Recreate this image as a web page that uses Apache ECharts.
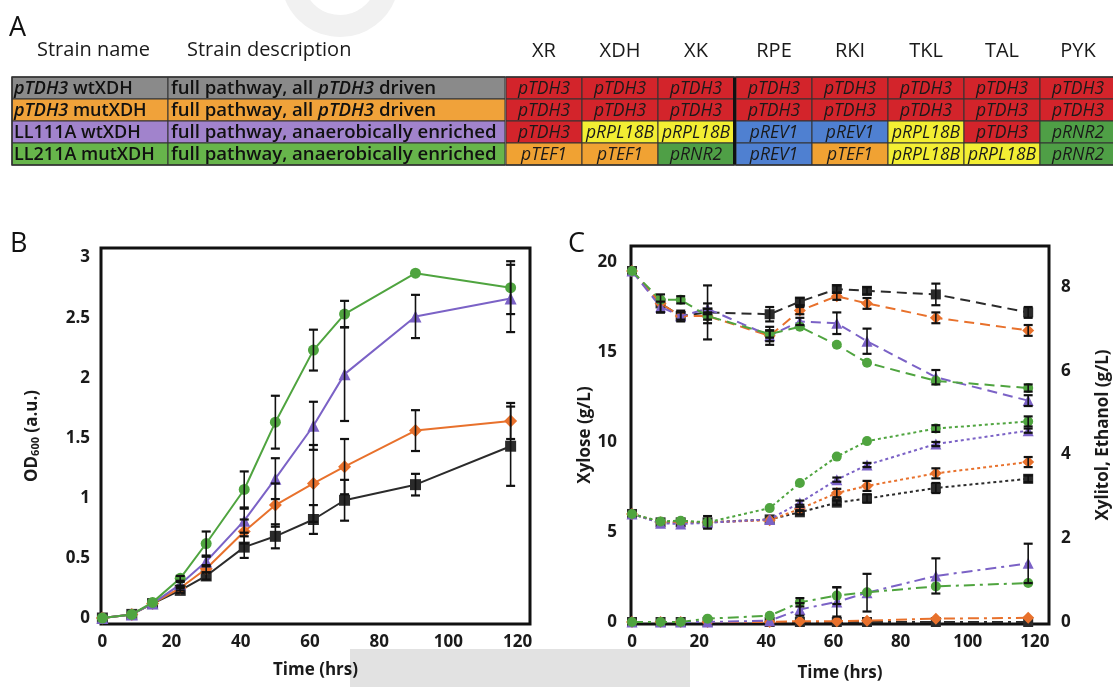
<!DOCTYPE html>
<html><head><meta charset="utf-8">
<script src="https://cdn.jsdelivr.net/npm/echarts@6/dist/echarts.min.js"></script>
<style>html,body{margin:0;padding:0;background:#fff;}#c{width:1113px;height:687px;}</style>
</head><body><div id="c"></div>
<script>
// ---------- Panel A table ----------
const headerNames = ['Strain name', 'Strain description'];
const geneNames = ['XR', 'XDH', 'XK', 'RPE', 'RKI', 'TKL', 'TAL', 'PYK'];
const strainNames = ['{i|pTDH3}{n| wtXDH}', '{i|pTDH3}{n| mutXDH}', '{n|LL111A wtXDH}', '{n|LL211A mutXDH}'];
const strainDescs = ['{n|full pathway, all }{i|pTDH3}{n| driven}', '{n|full pathway, all }{i|pTDH3}{n| driven}',
  '{n|full pathway, anaerobically enriched}', '{n|full pathway, anaerobically enriched}'];
const strainColors = ['#8a8a8a', '#f0a23a', '#a183cc', '#67b54b'];
const promoters = [
  ['pTDH3', 'pTDH3', 'pTDH3', 'pTDH3', 'pTDH3', 'pTDH3', 'pTDH3', 'pTDH3'],
  ['pTDH3', 'pTDH3', 'pTDH3', 'pTDH3', 'pTDH3', 'pTDH3', 'pTDH3', 'pTDH3'],
  ['pTDH3', 'pRPL18B', 'pRPL18B', 'pREV1', 'pREV1', 'pRPL18B', 'pTDH3', 'pRNR2'],
  ['pTEF1', 'pTEF1', 'pRNR2', 'pREV1', 'pTEF1', 'pRPL18B', 'pRPL18B', 'pRNR2']
];
const promoterColors = { pTDH3: '#d3242b', pRPL18B: '#f3ee33', pREV1: '#4f80d1', pTEF1: '#f0a233', pRNR2: '#4f9f46' };

// ---------- Panel B: OD600 ----------
const timeB = [0, 8.5, 14.5, 22.5, 30, 41, 50, 61, 70, 90.5, 118];
const odBlack = [0, 0.03, 0.12, 0.23, 0.35, 0.59, 0.68, 0.82, 0.98, 1.11, 1.43];
const odBlackErr = [0, 0, 0, 0.02, 0.03, 0.09, 0.1, 0.12, 0.17, 0.09, 0.33];
const odOrange = [0, 0.03, 0.12, 0.25, 0.41, 0.72, 0.94, 1.12, 1.26, 1.56, 1.64];
const odOrangeErr = [0, 0, 0, 0.02, 0.03, 0.1, 0.18, 0.32, 0.23, 0.17, 0.15];
const odPurple = [0, 0.03, 0.12, 0.28, 0.47, 0.81, 1.16, 1.6, 2.03, 2.51, 2.66];
const odPurpleErr = [0, 0, 0, 0.02, 0.04, 0.1, 0.17, 0.2, 0.39, 0.18, 0.28];
const odGreen = [0, 0.03, 0.13, 0.33, 0.62, 1.07, 1.63, 2.23, 2.53, 2.87, 2.75];
const odGreenErr = [0, 0, 0, 0.02, 0.1, 0.15, 0.22, 0.17, 0.11, 0, 0.22];
const ticksTime = [0, 20, 40, 60, 80, 100, 120];
const ticksOD = [0, 0.5, 1, 1.5, 2, 2.5, 3];

// ---------- Panel C: xylose (left), ethanol & xylitol (right) ----------
const timeC = [0, 8.5, 14.5, 22.5, 41, 50, 61, 70, 90.5, 118];
const xylBlack = [19.5, 17.7, 17.0, 17.2, 17.1, 17.8, 18.5, 18.4, 18.2, 17.2];
const xylBlackErr = [0, 0.5, 0.3, 1.5, 0.4, 0.2, 0.2, 0.2, 0.6, 0.3];
const xylOrange = [19.5, 17.7, 17.0, 17.0, 15.9, 17.3, 18.1, 17.7, 16.9, 16.2];
const xylOrangeErr = [0, 0, 0, 0.4, 0.3, 0.2, 0.2, 0.3, 0.3, 0.3];
const xylPurple = [19.5, 17.5, 17.0, 17.4, 15.9, 16.7, 16.6, 15.6, 13.6, 12.3];
const xylPurpleErr = [0, 0.3, 0.2, 0.3, 0.5, 0.2, 0.6, 0.7, 0.4, 0.3];
const xylGreen = [19.5, 17.9, 17.9, 17.0, 16.0, 16.4, 15.4, 14.4, 13.4, 13.0];
const xylGreenErr = [0, 0, 0.2, 0.2, 0.2, 0, 0, 0, 0, 0.2];

const ethBlack = [2.58, 2.38, 2.38, 2.38, 2.45, 2.62, 2.85, 2.95, 3.2, 3.42];
const ethBlackErr = [0, 0, 0, 0.15, 0, 0.05, 0.05, 0.1, 0.12, 0.08];
const ethOrange = [2.58, 2.38, 2.38, 2.38, 2.43, 2.7, 3.08, 3.25, 3.55, 3.82];
const ethOrangeErr = [0, 0, 0, 0, 0, 0.05, 0.1, 0.12, 0.12, 0.12];
const ethPurple = [2.58, 2.36, 2.34, 2.37, 2.45, 2.85, 3.4, 3.75, 4.25, 4.57];
const ethPurpleErr = [0, 0, 0, 0, 0, 0.05, 0.05, 0.05, 0.05, 0.05];
const ethGreen = [2.58, 2.4, 2.42, 2.38, 2.72, 3.32, 3.95, 4.32, 4.62, 4.79];
const ethGreenErr = [0, 0, 0, 0, 0, 0, 0, 0, 0.08, 0.12];

const xoBlack = [0, 0, 0, 0, 0, 0, 0, 0, 0, 0];
const xoOrange = [0, 0, 0, 0, 0, 0.02, 0.02, 0.03, 0.08, 0.1];
const xoPurple = [0, 0, 0, 0, 0.03, 0.3, 0.48, 0.7, 1.1, 1.4];
const xoPurpleErr = [0, 0, 0, 0, 0, 0.15, 0.35, 0.45, 0.42, 0.47];
const xoGreen = [0, 0, 0, 0.08, 0.15, 0.47, 0.63, 0.71, 0.85, 0.93];
const xoGreenErr = [0, 0, 0, 0, 0, 0.1, 0.2, 0, 0, 0];
const ticksXyl = [0, 5, 10, 15, 20];
const ticksEth = [0, 2, 4, 6, 8];

// ---------- styles ----------
const FONT = '"Open Sans", "Noto Sans", sans-serif';
const C_BLACK = '#2b2b2b', C_ORANGE = '#e8712c', C_PURPLE = '#7b62c6', C_GREEN = '#4fa43f';
const strains = [
  { color: C_BLACK, symbol: 'rect' },
  { color: C_ORANGE, symbol: 'diamond' },
  { color: C_PURPLE, symbol: 'triangle' },
  { color: C_GREEN, symbol: 'circle' }
];

function lineSeries(xs, ys, k, xi, yi, dash, size) {
  const s = strains[k];
  return {
    type: 'line', xAxisIndex: xi, yAxisIndex: yi,
    data: xs.map((x, i) => [x, ys[i]]),
    symbol: s.symbol, symbolSize: s.symbol === 'diamond' ? size + 2 : (s.symbol === 'triangle' ? size + 1 : size),
    showSymbol: true, animation: false, z: 3 + k * 0.1,
    lineStyle: { color: s.color, width: 2, type: dash },
    itemStyle: { color: s.color }
  };
}
function errSeries(xs, ys, errs, xi, yi) {
  const data = [];
  xs.forEach((x, i) => { if (errs[i] > 0) data.push([x, ys[i] - errs[i], ys[i] + errs[i]]); });
  return {
    type: 'custom', xAxisIndex: xi, yAxisIndex: yi, data, z: 6, silent: true, animation: false,
    encode: { x: 0, y: [1, 2] },
    renderItem(params, api) {
      const x = api.value(0);
      const p1 = api.coord([x, api.value(2)]), p2 = api.coord([x, api.value(1)]);
      const w = 4.5;
      const st = { stroke: '#111', lineWidth: 1.6 };
      return { type: 'group', children: [
        { type: 'line', shape: { x1: p1[0], y1: p1[1], x2: p2[0], y2: p2[1] }, style: st },
        { type: 'line', shape: { x1: p1[0] - w, y1: p1[1], x2: p1[0] + w, y2: p1[1] }, style: { stroke: '#111', lineWidth: 2.2 } },
        { type: 'line', shape: { x1: p2[0] - w, y1: p2[1], x2: p2[0] + w, y2: p2[1] }, style: { stroke: '#111', lineWidth: 2.2 } }
      ] };
    }
  };
}
const labelStyle = { fontFamily: FONT, fontWeight: 'bold', fontSize: 17, color: '#1a1a1a' };
function axis(extra, ticks, margin) {
  return Object.assign({
    type: 'value', axisLine: { show: false }, axisTick: { show: false }, splitLine: { show: false },
    axisLabel: Object.assign({ customValues: ticks, margin: margin }, labelStyle),
    nameTextStyle: { fontFamily: FONT, fontWeight: 'bold', fontSize: 17, color: '#1a1a1a' },
    nameLocation: 'middle'
  }, extra);
}

// ---------- table graphics ----------
const graphics = [];
const TX = 12, TY = 77, RH = 22;
const colNameW = 156, colDescW = 337, geneW = 76;
const geneX0 = TX + colNameW + colDescW + 1;
const HFONT = '400 20px ' + FONT;
graphics.push({ type: 'text', x: 9, y: 28, style: { text: 'A', font: '400 27px ' + FONT, fill: '#111', verticalAlign: 'middle' } });
graphics.push({ type: 'text', x: 37, y: 50, style: { text: headerNames[0], font: HFONT, fill: '#1a1a1a', verticalAlign: 'middle' } });
graphics.push({ type: 'text', x: 187, y: 50, style: { text: headerNames[1], font: HFONT, fill: '#1a1a1a', verticalAlign: 'middle' } });
geneNames.forEach((g, j) => {
  const gx = geneX0 + j * geneW + (j >= 3 ? 2 : 0) + geneW / 2;
  graphics.push({ type: 'text', x: gx, y: 51, style: { text: g, font: HFONT, fill: '#1a1a1a', align: 'center', verticalAlign: 'middle' } });
});
const richN = (sz) => ({ n: { fontFamily: FONT, fontSize: sz, fontWeight: 600, fill: '#111' }, i: { fontFamily: FONT, fontSize: sz, fontWeight: 600, fontStyle: 'italic', fill: '#111' } });
strainNames.forEach((nm, r) => {
  const y = TY + r * RH;
  graphics.push({ type: 'rect', shape: { x: TX, y: y, width: colNameW, height: RH }, style: { fill: strainColors[r], stroke: '#333', lineWidth: 1 } });
  graphics.push({ type: 'rect', shape: { x: TX + colNameW, y: y, width: colDescW, height: RH }, style: { fill: strainColors[r], stroke: '#333', lineWidth: 1 } });
  graphics.push({ type: 'text', x: TX + 2, y: y + RH / 2 + 1, style: { text: nm, rich: richN(18), verticalAlign: 'middle' }, z: 10 });
  graphics.push({ type: 'text', x: TX + colNameW + 3, y: y + RH / 2 + 1, style: { text: strainDescs[r], rich: richN(18.6), verticalAlign: 'middle' }, z: 10 });
  promoters[r].forEach((p, j) => {
    const gx = geneX0 + j * geneW + (j >= 3 ? 2 : 0);
    graphics.push({ type: 'rect', shape: { x: gx, y: y, width: geneW, height: RH }, style: { fill: promoterColors[p], stroke: '#333', lineWidth: 1 } });
    graphics.push({ type: 'text', x: gx + geneW / 2, y: y + RH / 2 + 1, style: { text: p, font: 'italic 400 17.5px ' + FONT, fill: '#1a1a1a', align: 'center', verticalAlign: 'middle' }, z: 10 });
  });
});
// thick divider between XK and RPE
graphics.push({ type: 'rect', shape: { x: geneX0 + 3 * geneW - 1, y: TY, width: 3, height: 4 * RH }, style: { fill: '#111' }, z: 11 });
graphics.push({ type: 'rect', shape: { x: TX, y: TY, width: 1113 - TX + 5, height: 4 * RH }, style: { fill: 'none', stroke: '#333', lineWidth: 1.5 }, z: 11 });
// panel letters
graphics.push({ type: 'text', x: 10, y: 244, style: { text: 'B', font: '400 27px ' + FONT, fill: '#111', verticalAlign: 'middle' } });
graphics.push({ type: 'text', x: 568, y: 244, style: { text: 'C', font: '400 27px ' + FONT, fill: '#111', verticalAlign: 'middle' } });
// grey band at bottom and faint watermark at top
graphics.push({ type: 'rect', shape: { x: 350, y: 649, width: 340, height: 40 }, style: { fill: '#e2e2e2' }, z: -10 });
graphics.push({ type: 'arc', shape: { cx: 340, cy: -22, r: 48, startAngle: 0.15, endAngle: Math.PI - 0.15 }, style: { stroke: '#f1f1f1', lineWidth: 22, fill: 'none' }, z: -10 });

const series = [];
// Panel B
[odBlack, odOrange, odPurple, odGreen].forEach((d, k) => series.push(lineSeries(timeB, d, k, 0, 0, 'solid', 11)));
[[odBlack, odBlackErr], [odOrange, odOrangeErr], [odPurple, odPurpleErr], [odGreen, odGreenErr]].forEach(([d, e]) => series.push(errSeries(timeB, d, e, 0, 0)));
// Panel C
[xylBlack, xylOrange, xylPurple, xylGreen].forEach((d, k) => series.push(lineSeries(timeC, d, k, 1, 1, [10, 6], 10)));
[ethBlack, ethOrange, ethPurple, ethGreen].forEach((d, k) => series.push(lineSeries(timeC, d, k, 1, 2, [3, 3], 10)));
[xoBlack, xoOrange, xoPurple, xoGreen].forEach((d, k) => series.push(lineSeries(timeC, d, k, 1, 2, [11, 5, 3, 5], 10)));
[[xylBlack, xylBlackErr], [xylOrange, xylOrangeErr], [xylPurple, xylPurpleErr], [xylGreen, xylGreenErr]].forEach(([d, e]) => series.push(errSeries(timeC, d, e, 1, 1)));
[[ethBlack, ethBlackErr], [ethOrange, ethOrangeErr], [ethPurple, ethPurpleErr], [ethGreen, ethGreenErr],
 [xoPurple, xoPurpleErr], [xoGreen, xoGreenErr]].forEach(([d, e]) => series.push(errSeries(timeC, d, e, 1, 2)));

const chart = echarts.init(document.getElementById('c'), null, { renderer: 'canvas' });
chart.setOption({
  animation: false,
  backgroundColor: '#fff',
  grid: [
    { left: 101, top: 248, width: 429, height: 376, show: true, borderColor: '#111', borderWidth: 3, backgroundColor: 'transparent' },
    { left: 631, top: 246, width: 427, height: 379, show: true, borderColor: '#111', borderWidth: 3, backgroundColor: 'transparent' }
  ],
  xAxis: [
    axis({ gridIndex: 0, min: -0.4, max: 123.6, name: 'Time (hrs)', nameGap: 38 }, ticksTime, 10),
    axis({ gridIndex: 1, min: -0.3, max: 124.2, name: 'Time (hrs)', nameGap: 41 }, ticksTime, 10)
  ],
  yAxis: [
    axis({ gridIndex: 0, min: -0.05, max: 3.08, name: '{a|OD}{s|600}{a| (a.u.)}', nameGap: 60,
      nameTextStyle: { rich: { a: { fontFamily: FONT, fontWeight: 'bold', fontSize: 17, color: '#1a1a1a' }, s: { fontFamily: FONT, fontWeight: 'bold', fontSize: 11, color: '#1a1a1a', verticalAlign: 'bottom', padding: [6, 0, 0, 0] } } } }, ticksOD, 11),
    axis({ gridIndex: 1, min: -0.11, max: 20.89, name: 'Xylose (g/L)', nameGap: 33 }, ticksXyl, 14),
    axis({ gridIndex: 1, position: 'right', min: -0.048, max: 8.98, name: 'Xylitol, Ethanol (g/L)', nameGap: 46 }, ticksEth, 12)
  ],
  graphic: graphics,
  series
});
</script></body></html>
